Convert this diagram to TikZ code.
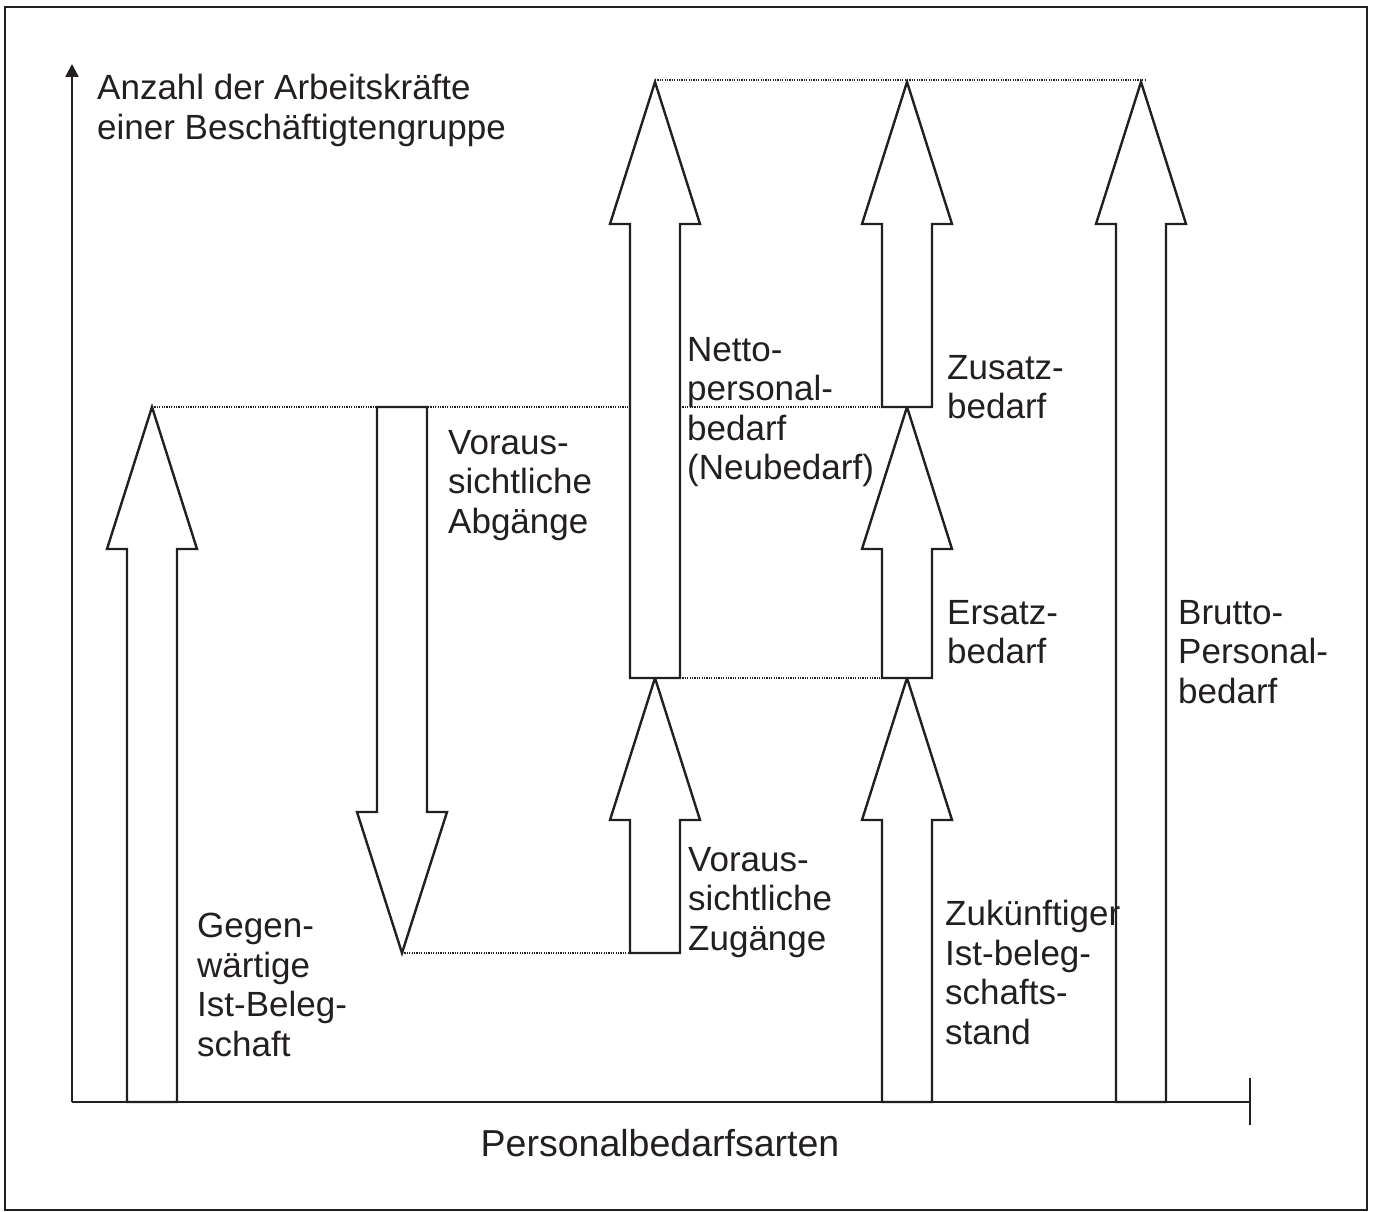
\documentclass[tikz,border=0pt]{standalone}
\usepackage{fontspec}
\setmainfont{Liberation Sans}
\usetikzlibrary{arrows.meta}
\definecolor{ink}{HTML}{231F20}
\newcommand\blockup[3]{% x, bottom y, tip y
  \draw[blockarrow] (#1-25,#2) -- (#1-25,#3+142) -- (#1-45,#3+142) -- (#1,#3)
    -- (#1+45,#3+142) -- (#1+25,#3+142) -- (#1+25,#2) -- cycle;}
\newcommand\blockdown[3]{% x, top y, tip y
  \draw[blockarrow] (#1-25,#2) -- (#1-25,#3-141) -- (#1-45,#3-141) -- (#1,#3)
    -- (#1+45,#3-141) -- (#1+25,#3-141) -- (#1+25,#2) -- cycle;}
\begin{document}
\begin{tikzpicture}[x=1pt,y=-1pt,
  blockarrow/.style={draw=ink, line width=2.4pt, line join=miter, fill=white},
  axisline/.style={draw=ink, line width=2.4pt},
  guide/.style={draw=ink, line width=1.1pt, dash pattern=on 1.2pt off 1.2pt},
  label/.style={anchor=north west, inner sep=0pt, align=left, font=\fontsize{35}{39.5}\selectfont, text=ink}]
\useasboundingbox (0,0) rectangle (1373,1212);
\draw[line width=1.6pt, draw=ink] (5,7) rectangle (1367,1210);
% axes
\coordinate (O) at (72,1102);
\coordinate (Ytop) at (72,64);
\coordinate (Xend) at (1250,1102);
\coordinate (Tup) at (1250,1078);
\coordinate (Tdn) at (1250,1125);
\draw[axisline, -{Triangle[width=13pt,length=13pt]}] (O) -- (Ytop);
\draw[axisline] (O) -- (Xend);
\draw[axisline] (Tup) -- (Tdn);
% dotted guide lines
\coordinate (g1a) at (152,407); \coordinate (g1b) at (882,407);
\coordinate (g2a) at (655,80); \coordinate (g2b) at (1145,80);
\coordinate (g3a) at (680,678); \coordinate (g3b) at (882,678);
\coordinate (g4a) at (402,953); \coordinate (g4b) at (630,953);
\draw[guide] (g1a) -- (g1b);
\draw[guide] (g2a) -- (g2b);
\draw[guide] (g3a) -- (g3b);
\draw[guide] (g4a) -- (g4b);
% block arrows
\blockup{152}{1102}{407}
\blockdown{402}{407}{953}
\blockup{655}{953}{678}
\blockup{655}{678}{82}
\blockup{907}{1102}{678}
\blockup{907}{678}{407}
\blockup{907}{407}{82}
\blockup{1141}{1102}{82}
% labels
\node[label] (ylab) at (97,74) {Anzahl der Arbeitskräfte\\einer Beschäftigtengruppe};
\node[label] (gegen) at (197,913) {Gegen-\\wärtige\\Ist-Beleg-\\schaft};
\node[label] (abg) at (448,430) {Voraus-\\sichtliche\\Abgänge};
\node[label] (netto) at (687,337) {Netto-\\personal-\\bedarf\\(Neubedarf)};
\node[label] (zusatz) at (947,355) {Zusatz-\\bedarf};
\node[label] (ersatz) at (947,600) {Ersatz-\\bedarf};
\node[label] (brutto) at (1178,600) {Brutto-\\Personal-\\bedarf};
\node[label] (zug) at (688,847) {Voraus-\\sichtliche\\Zugänge};
\node[label] (zuk) at (945,900) {Zukünftiger\\Ist-beleg-\\schafts-\\stand};
\node[font=\fontsize{37.5}{42}\selectfont, inner sep=0pt, text=ink] (xlab) at (660,1143) {Personalbedarfsarten};
\end{tikzpicture}
\end{document}
